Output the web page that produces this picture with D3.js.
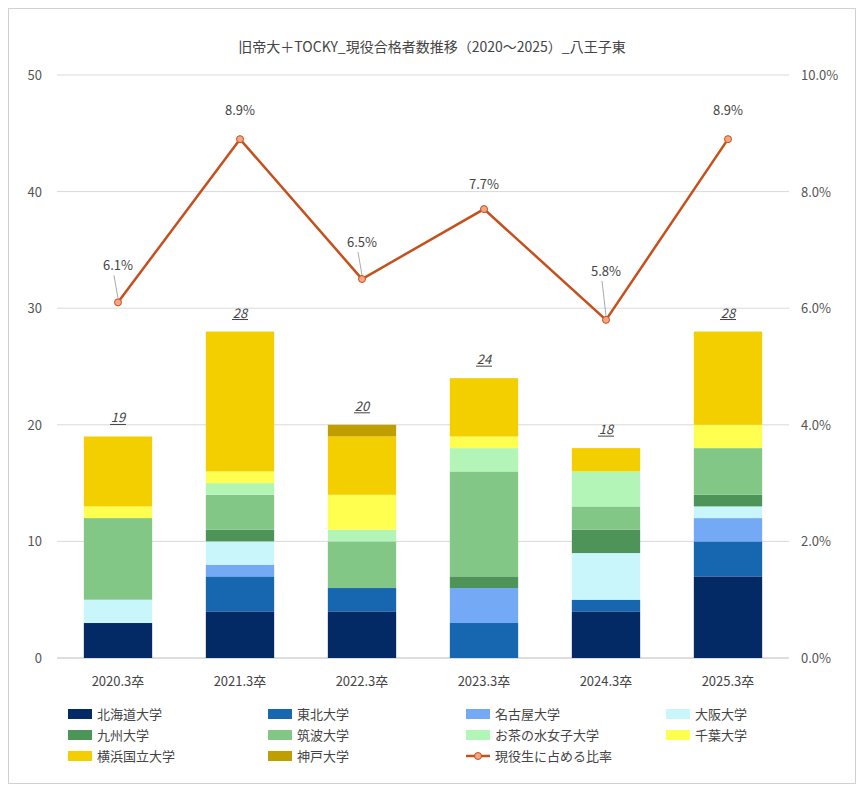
<!DOCTYPE html>
<html><head><meta charset="utf-8">
<script src="https://cdn.jsdelivr.net/npm/d3@7"></script>
<style>body{margin:0;background:#fff;font-family:"Noto Sans CJK JP","Noto Sans",sans-serif;}</style>
</head><body><svg id="c" width="864" height="796"></svg>
<script>
const categories=["2020.3卒","2021.3卒","2022.3卒","2023.3卒","2024.3卒","2025.3卒"];
const seriesNames=["北海道大学","東北大学","名古屋大学","大阪大学","九州大学","筑波大学","お茶の水女子大学","千葉大学","横浜国立大学","神戸大学"];
const hokkaido=[3,4,4,0,4,7];
const tohoku=[0,3,2,3,1,3];
const nagoya=[0,1,0,3,0,2];
const osaka=[2,2,0,0,4,1];
const kyushu=[0,1,0,1,2,1];
const tsukuba=[7,3,4,9,2,4];
const ochanomizu=[0,1,1,2,3,0];
const chiba=[1,1,3,1,0,2];
const yokohama=[6,12,5,5,2,8];
const kobe=[0,0,1,0,0,0];
const rate=[6.1,8.9,6.5,7.7,5.8,8.9];
const leftTicks=[0,10,20,30,40,50];
const rightTicks=[0,2,4,6,8,10];
const colors=["#042a66","#1666b0","#74a9f5","#c8f6fb","#4e9458","#82c785","#b3f5b6","#ffff50","#f4cf00","#bf9f00"];
const values=[hokkaido,tohoku,nagoya,osaka,kyushu,tsukuba,ochanomizu,chiba,yokohama,kobe];

const svg=d3.select("#c");
svg.append("rect").attr("x",8.5).attr("y",8.5).attr("width",847).attr("height",775).attr("fill","#fff").attr("stroke","#d0d0d0");
svg.append("text").attr("x",432).attr("y",52).attr("text-anchor","middle").attr("font-size",14).attr("fill","#444").text("旧帝大＋TOCKY_現役合格者数推移（2020～2025）_八王子東");

const x=d3.scaleBand().domain(categories).range([57,789]).paddingInner(0.44).paddingOuter(0.22);
const y=d3.scaleLinear().domain([0,50]).range([658,75]);
const y2=d3.scaleLinear().domain([0,10]).range([658,75]);

svg.append("g").selectAll("line").data(leftTicks).join("line")
 .attr("x1",57).attr("x2",789).attr("y1",d=>y(d)).attr("y2",d=>y(d)).attr("stroke",d=>d==0?"#bbb":"#d9d9d9");
svg.append("g").selectAll("text").data(leftTicks).join("text")
 .attr("x",42).attr("y",d=>y(d)+5).attr("text-anchor","end").attr("font-size",13).attr("fill","#555").text(d=>d);
svg.append("g").selectAll("text").data(rightTicks).join("text")
 .attr("x",801).attr("y",d=>y2(d)+5).attr("font-size",13).attr("fill","#555").text(d=>d.toFixed(1)+"%");
svg.append("g").selectAll("text").data(categories).join("text")
 .attr("x",d=>x(d)+x.bandwidth()/2).attr("y",686).attr("text-anchor","middle").attr("font-size",13).attr("fill","#444").text(d=>d);

const rows=categories.map((c,i)=>{const r={cat:c};seriesNames.forEach((s,j)=>r[s]=values[j][i]);return r;});
const stack=d3.stack().keys(seriesNames)(rows);
svg.append("g").selectAll("g").data(stack).join("g").attr("fill",(d,i)=>colors[i])
 .selectAll("rect").data(d=>d).join("rect")
 .attr("x",d=>x(d.data.cat)).attr("width",x.bandwidth())
 .attr("y",d=>y(d[1])).attr("height",d=>y(d[0])-y(d[1]));

const totals=categories.map((c,i)=>d3.sum(values,v=>v[i]));
const tg=svg.append("g");
categories.forEach((c,i)=>{
 const cx=x(c)+x.bandwidth()/2, ty=y(totals[i])-14;
 tg.append("text").attr("x",cx).attr("y",ty).attr("text-anchor","middle").attr("font-size",13).attr("font-style","italic").attr("fill","#444").text(totals[i]);
 tg.append("line").attr("x1",cx-8).attr("x2",cx+8).attr("y1",ty+2).attr("y2",ty+2).attr("stroke","#444");
});

const pts=categories.map((c,i)=>[x(c)+x.bandwidth()/2,y2(rate[i])]);
svg.append("path").attr("d",d3.line()(pts)).attr("fill","none").attr("stroke","#c5501c").attr("stroke-width",2.5);
svg.append("g").selectAll("circle").data(pts).join("circle").attr("cx",d=>d[0]).attr("cy",d=>d[1]).attr("r",3.5)
 .attr("fill","#f4a582").attr("stroke","#c5501c").attr("stroke-width",1);
const off=[32,24,32,20,44,24];
pts.forEach((p,i)=>{
 svg.append("text").attr("x",p[0]).attr("y",p[1]-off[i]).attr("text-anchor","middle").attr("font-size",13).attr("fill","#444").text(rate[i].toFixed(1)+"%");
 if(off[i]>30) svg.append("line").attr("x1",p[0]-4).attr("y1",p[1]-off[i]+5).attr("x2",p[0]).attr("y2",p[1]-4).attr("stroke","#aaa");
});

const lg=svg.append("g");
const cols=[68,268,466,666], rowsY=[714,735,756];
seriesNames.forEach((s,i)=>{
 const lx=cols[i%4], ly=rowsY[Math.floor(i/4)];
 lg.append("rect").attr("x",lx).attr("y",ly-5).attr("width",24).attr("height",10).attr("fill",colors[i]);
 lg.append("text").attr("x",lx+29).attr("y",ly+5).attr("font-size",13).attr("fill","#444").text(s);
});
const lx=cols[2], ly=rowsY[2];
lg.append("line").attr("x1",lx).attr("x2",lx+24).attr("y1",ly).attr("y2",ly).attr("stroke","#c5501c").attr("stroke-width",2.5);
lg.append("circle").attr("cx",lx+12).attr("cy",ly).attr("r",3.5).attr("fill","#f4a582").attr("stroke","#c5501c");
lg.append("text").attr("x",lx+29).attr("y",ly+5).attr("font-size",13).attr("fill","#444").text("現役生に占める比率");
</script></body></html>
